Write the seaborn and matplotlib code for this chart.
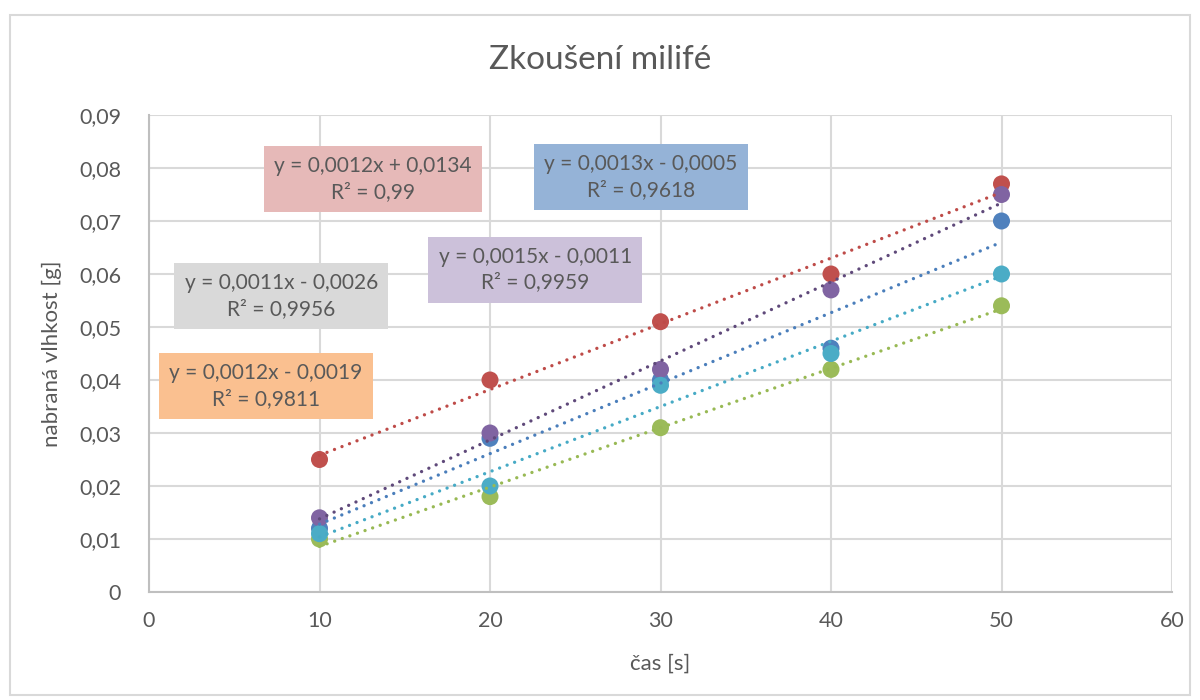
import numpy as np
import pandas as pd
import matplotlib
matplotlib.use("Agg")
import matplotlib.pyplot as plt
from matplotlib.patches import Rectangle
import seaborn as sns

# ---- data ----
time_s = [10, 20, 30, 40, 50]
series_names = ["Series1", "Series2", "Series3", "Series4", "Series5"]
s1_blue = [0.012, 0.029, 0.040, 0.046, 0.070]
s2_red = [0.025, 0.040, 0.051, 0.060, 0.077]
s3_green = [0.010, 0.018, 0.031, 0.042, 0.054]
s4_purple = [0.014, 0.030, 0.042, 0.057, 0.075]
s5_cyan = [0.011, 0.020, 0.039, 0.045, 0.060]

eq_texts = [
    "y = 0,0013x - 0,0005\nR² = 0,9618",
    "y = 0,0012x + 0,0134\nR² = 0,99",
    "y = 0,0011x - 0,0026\nR² = 0,9956",
    "y = 0,0015x - 0,0011\nR² = 0,9959",
    "y = 0,0012x - 0,0019\nR² = 0,9811",
]
y_ticks = [0, 0.01, 0.02, 0.03, 0.04, 0.05, 0.06, 0.07, 0.08, 0.09]
y_tick_labels = ["0", "0,01", "0,02", "0,03", "0,04", "0,05", "0,06", "0,07", "0,08", "0,09"]
x_ticks = [0, 10, 20, 30, 40, 50, 60]
x_tick_labels = ["0", "10", "20", "30", "40", "50", "60"]

title = "Zkoušení milifé"
x_label = "čas [s]"
y_label = "nabraná vlhkost [g]"

# ---- style ----
marker_colors = ["#4F81BD", "#C0504D", "#9BBB59", "#8064A2", "#4BACC6"]
line_colors = ["#4A7EBB", "#BE4B48", "#98B954", "#5F497A", "#46AAC5"]
box_colors = ["#95B3D7", "#E6B9B8", "#D9D9D9", "#CCC1DA", "#FAC090"]
# label positions (data coords, centre of box)
label_pos = [(28.85, 0.0783), (13.15, 0.0779), (7.75, 0.0558), (22.65, 0.0608), (6.85, 0.0389)]

sns.set_theme(style="white")
plt.rcParams["font.family"] = ["Lato", "DejaVu Sans"]
text_color = "#595959"

values = [s1_blue, s2_red, s3_green, s4_purple, s5_cyan]
df = pd.DataFrame({
    "time": np.tile(time_s, len(series_names)),
    "value": np.concatenate(values),
    "series": np.repeat(series_names, len(time_s)),
})

fig = plt.figure(figsize=(12, 7), dpi=100)
ax = fig.add_axes([149 / 1200, 1 - 592 / 700, (1172 - 149) / 1200, (592 - 115) / 700])

# outer chart border
fig.patches.append(Rectangle((10 / 1200, 1 - 695 / 700), 1180 / 1200, 680 / 700,
                             transform=fig.transFigure, fill=False,
                             edgecolor="#D9D9D9", lw=1.5))

sns.scatterplot(data=df, x="time", y="value", hue="series", palette=marker_colors,
                s=150, edgecolor="none", legend=False, ax=ax, zorder=3)

for i, name in enumerate(series_names):
    sub = df[df["series"] == name]
    sns.regplot(data=sub, x="time", y="value", ci=None, scatter=False, ax=ax,
                line_kws=dict(color=line_colors[i], lw=2.4, ls=(0, (0.01, 2.4)),
                              dash_capstyle="round", zorder=4))

for i, (px, py) in enumerate(label_pos):
    ax.text(px, py, eq_texts[i], ha="center", va="center", fontsize=15,
            color=text_color, linespacing=1.35, zorder=5,
            bbox=dict(boxstyle="square,pad=0.5", fc=box_colors[i], ec="none"))

ax.set_xlim(0, 60)
ax.set_ylim(0, 0.09)
ax.set_xticks(x_ticks)
ax.set_xticklabels(x_tick_labels)
ax.set_yticks(y_ticks)
ax.set_yticklabels(y_tick_labels)
ax.tick_params(axis="both", length=0, labelsize=15.5, colors=text_color)
ax.tick_params(axis="y", pad=20)
ax.tick_params(axis="x", pad=14)
ax.grid(True, color="#D9D9D9", lw=1.5)
ax.set_axisbelow(True)
for side in ["top", "right"]:
    ax.spines[side].set_visible(False)
for side in ["left", "bottom"]:
    ax.spines[side].set_color("#BFBFBF")
    ax.spines[side].set_linewidth(1.5)

ax.set_xlabel(x_label, fontsize=16, color=text_color, labelpad=16)
ax.set_ylabel(y_label, fontsize=16, color=text_color, labelpad=12)
fig.text(0.5, 1 - 60 / 700, title, ha="center", va="center", fontsize=24, color=text_color)

fig.savefig("out.png", dpi=100, facecolor="white")
